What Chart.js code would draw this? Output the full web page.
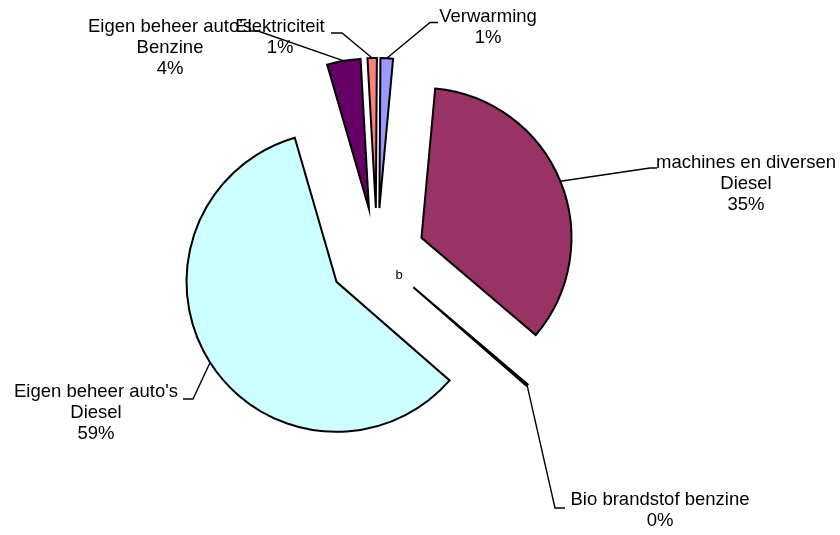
<!DOCTYPE html>
<html>
<head>
<meta charset="utf-8">
<script src="https://cdn.jsdelivr.net/npm/chart.js@4/dist/chart.umd.min.js"></script>
<style>
  html,body{margin:0;padding:0;background:#fff;}
  #wrap{width:840px;height:535px;}
</style>
</head>
<body>
<div id="wrap"><canvas id="pie" width="840" height="535"></canvas></div>
<script>
// Data (percent shares)
const categories = ['Verwarming', 'machines en diversen\nDiesel', 'Bio brandstof benzine', "Eigen beheer auto's\nDiesel", "Eigen beheer auto's\nBenzine", 'Elektriciteit'];
const shares = [1.35, 34.75, 0.2, 59.1, 3.6, 1.0];
const sliceColors = ['#9999FF', '#993366', '#FFFFCC', '#CCFFFF', '#660066', '#FF8080'];
const strayNote = 'b';

// Layout: how far every slice is pulled out, and where the labels sit
const explode = 48;
const labelPos = [
  {cx: 488, y: 16.5, elbow: [430, 22.5], stub: [438, 22.5]},
  {cx: 746, y: 163,  elbow: [650, 168],  stub: [657, 168]},
  {cx: 660, y: 500,  elbow: [555, 508],  stub: [565, 508]},
  {cx: 96,  y: 392,  elbow: [193, 399],  stub: [183, 399]},
  {cx: 170, y: 26.5, elbow: [258, 31],   stub: [250, 31]},
  {cx: 280, y: 26.5, elbow: [342, 33],   stub: [331, 33]}
];
const FONT = '18.5px "Liberation Sans", Arial, sans-serif';
const LINE_H = 21;

// move every arc out along its own middle angle (Excel style explosion)
const explodePlugin = {
  id: 'explode',
  afterDatasetsUpdate(chart){
    chart.getDatasetMeta(0).data.forEach(arc=>{
      const mid = (arc.startAngle + arc.endAngle) / 2;
      arc.x += Math.cos(mid) * explode;
      arc.y += Math.sin(mid) * explode;
    });
  }
};

// labels with leader lines
const labelPlugin = {
  id: 'pieLabels',
  afterDatasetsDraw(chart){
    const ctx = chart.ctx;
    const total = shares.reduce((a,b)=>a+b, 0);
    const arcs = chart.getDatasetMeta(0).data;
    ctx.save();
    arcs.forEach((arc, i)=>{
      const p = labelPos[i];
      const mid = (arc.startAngle + arc.endAngle) / 2;
      const sx = arc.x + Math.cos(mid) * arc.outerRadius;
      const sy = arc.y + Math.sin(mid) * arc.outerRadius;
      ctx.strokeStyle = '#000';
      ctx.lineWidth = 1.4;
      ctx.beginPath();
      ctx.moveTo(sx, sy);
      ctx.lineTo(p.elbow[0], p.elbow[1]);
      ctx.lineTo(p.stub[0], p.stub[1]);
      ctx.stroke();

      const lines = categories[i].split('\n').concat(Math.round(shares[i] / total * 100) + '%');
      ctx.fillStyle = '#000';
      ctx.font = FONT;
      ctx.textAlign = 'center';
      ctx.textBaseline = 'middle';
      lines.forEach((t, k)=> ctx.fillText(t, p.cx, p.y + k * LINE_H));
    });
    ctx.font = '13px "Liberation Sans", Arial, sans-serif';
    ctx.textAlign = 'center';
    ctx.textBaseline = 'middle';
    ctx.fillText(strayNote, 399, 275);
    ctx.restore();
  }
};

new Chart(document.getElementById('pie'), {
  type: 'pie',
  data: {
    labels: categories,
    datasets: [{
      data: shares,
      backgroundColor: sliceColors,
      borderColor: '#000',
      borderWidth: 2,
      borderJoinStyle: 'miter',
      radius: 150
    }]
  },
  options: {
    responsive: false,
    devicePixelRatio: 1,
    animation: false,
    events: [],
    rotation: 0.4,
    layout: {padding: {left: 0, right: 86, top: 0, bottom: 23}},
    plugins: {legend: {display: false}, tooltip: {enabled: false}}
  },
  plugins: [explodePlugin, labelPlugin]
});
</script>
</body>
</html>
